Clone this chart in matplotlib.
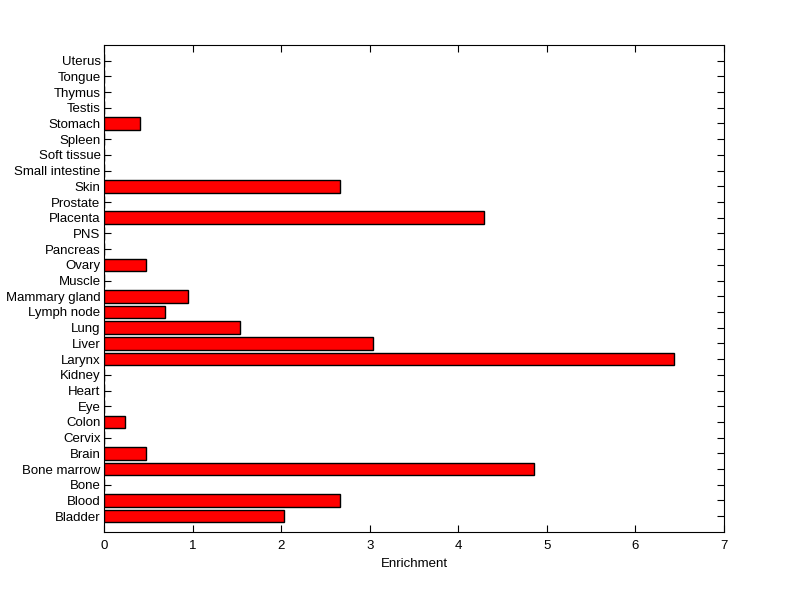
import matplotlib
matplotlib.use("Agg")
import matplotlib.pyplot as plt
import numpy as np

tissues = [
    "Bladder", "Blood", "Bone", "Bone marrow", "Brain", "Cervix", "Colon",
    "Eye", "Heart", "Kidney", "Larynx", "Liver", "Lung", "Lymph node",
    "Mammary gland", "Muscle", "Ovary", "Pancreas", "PNS", "Placenta",
    "Prostate", "Skin", "Small intestine", "Soft tissue", "Spleen",
    "Stomach", "Testis", "Thymus", "Tongue", "Uterus",
]
enrichment = [
    2.03, 2.66, 0.0, 4.85, 0.47, 0.0, 0.24,
    0.0, 0.0, 0.0, 6.43, 3.04, 1.53, 0.69,
    0.95, 0.0, 0.47, 0.0, 0.0, 4.29,
    0.0, 2.67, 0.0, 0.0, 0.0,
    0.41, 0.0, 0.0, 0.0, 0.0,
]

plt.rcParams["font.family"] = ["Liberation Sans", "DejaVu Sans"]

fig = plt.figure(figsize=(8, 5.99), dpi=100)
ax = fig.add_axes([0.13, 0.112, 0.775, 0.813])

positions = np.arange(1, len(tissues) + 1)
ax.barh(positions, enrichment, height=0.8, color="#ff0000",
        edgecolor="black", linewidth=1.0, zorder=3)

ax.set_xlim(0, 7)
ax.set_ylim(0, len(tissues) + 1)
ax.set_xticks(range(0, 8))
ax.set_yticks(positions)
ax.set_yticklabels(tissues)
ax.set_xlabel("Enrichment", fontsize=9.5, labelpad=4)

ax.tick_params(axis="both", direction="in", length=5, width=0.8,
               labelsize=9.5, top=True, right=True)
ax.tick_params(axis="x", pad=6)
ax.tick_params(axis="y", pad=2.5)
for spine in ax.spines.values():
    spine.set_linewidth(0.8)

fig.savefig("out.png", dpi=100, facecolor="white")
